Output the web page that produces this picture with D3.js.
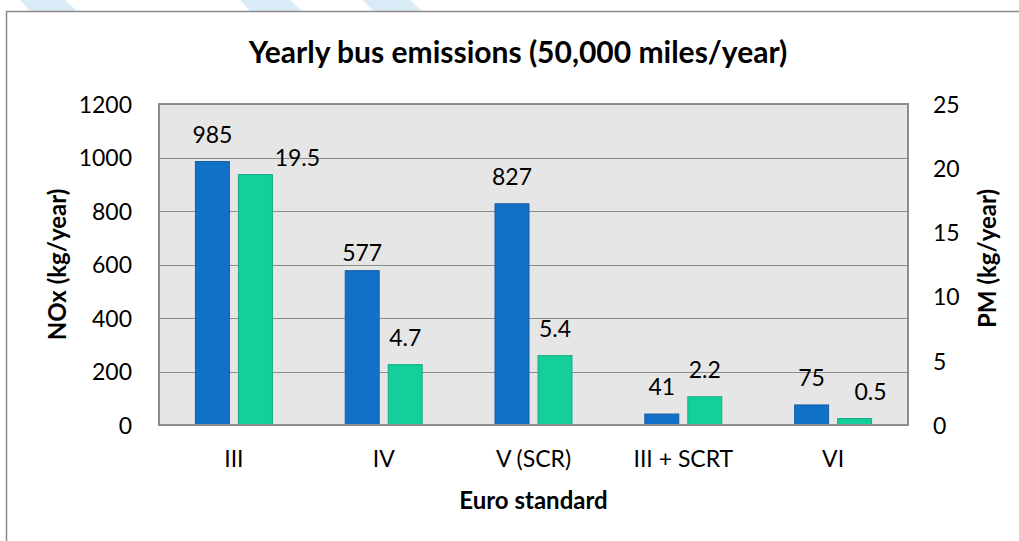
<!DOCTYPE html>
<html>
<head>
<meta charset="utf-8">
<script src="https://cdn.jsdelivr.net/npm/d3@7"></script>
<style>
  html, body { margin: 0; padding: 0; background: #fff; }
  svg { display: block; }
  text { font-family: Lato, "Open Sans", sans-serif; fill: #000; }
</style>
</head>
<body>
<svg id="chart" width="1019" height="541"></svg>
<script>
// Euro emission standards and yearly emissions per bus
const categories = ["III", "IV", "V (SCR)", "III + SCRT", "VI"];
const noxValues = [985, 577, 827, 41, 75];       // kg/year, left axis
const pmValues = [19.5, 4.7, 5.4, 2.2, 0.5];     // kg/year, right axis
const noxTicks = [0, 200, 400, 600, 800, 1000, 1200];
const pmTicks = [0, 5, 10, 15, 20, 25];

const svg = d3.select("#chart");
const W = 1019, H = 541;
const plot = { left: 159, right: 908, top: 104, bottom: 425 };
const baseFont = 23;

// decorative stripes along the top edge
const stripes = [[20, 65], [240, 290], [363, 410]];
svg.selectAll("path.stripe").data(stripes).join("path")
  .attr("class", "stripe")
  .attr("d", d => `M${d[0]},0 L${d[1]},0 L${d[1] + 12},11 L${d[0] + 10},11 Z`)
  .attr("fill", "#d8ebf6");

// outer chart frame
svg.append("path")
  .attr("d", `M6.5,${H} L6.5,11.5 L${W},11.5`)
  .attr("fill", "none").attr("stroke", "#8c8c8c").attr("stroke-width", 1.5);

const x0 = d3.scaleBand().domain(categories).range([plot.left, plot.right]);
const x1 = d3.scaleBand().domain(["nox", "pm"]).range([0, x0.bandwidth()])
  .paddingInner(0.21).paddingOuter(0.847);
const yL = d3.scaleLinear().domain([0, 1200]).range([plot.bottom, plot.top]);
const yR = d3.scaleLinear().domain([0, 25]).range([plot.bottom, plot.top]);

// plot background
svg.append("rect")
  .attr("x", plot.left).attr("y", plot.top)
  .attr("width", plot.right - plot.left).attr("height", plot.bottom - plot.top)
  .attr("fill", "#e6e6e6");

// horizontal gridlines
svg.append("g").selectAll("line").data(noxTicks.slice(1, -1)).join("line")
  .attr("x1", plot.left).attr("x2", plot.right)
  .attr("y1", d => Math.round(yL(d)) + 0.5).attr("y2", d => Math.round(yL(d)) + 0.5)
  .attr("stroke", "#8c8c8c").attr("stroke-width", 1);

// bars
const rows = categories.map((c, i) => ({ c, nox: noxValues[i], pm: pmValues[i] }));
const groups = svg.append("g").selectAll("g").data(rows).join("g")
  .attr("transform", d => `translate(${x0(d.c)},0)`);

groups.append("rect")
  .attr("x", x1("nox")).attr("width", x1.bandwidth())
  .attr("y", d => yL(d.nox)).attr("height", d => plot.bottom - yL(d.nox))
  .attr("fill", "#1170c8").attr("stroke", "#175fa3").attr("stroke-width", 1);

groups.append("rect")
  .attr("x", x1("pm")).attr("width", x1.bandwidth())
  .attr("y", d => yR(d.pm)).attr("height", d => plot.bottom - yR(d.pm))
  .attr("fill", "#13d09b").attr("stroke", "#14a985").attr("stroke-width", 1);

// plot border
svg.append("rect")
  .attr("x", plot.left).attr("y", plot.top)
  .attr("width", plot.right - plot.left).attr("height", plot.bottom - plot.top)
  .attr("fill", "none").attr("stroke", "#8c8c8c").attr("stroke-width", 2);

// value labels; a few are nudged to avoid crowding
const nudge = { "nox-1": [0, 9], "pm-0": [42, 10], "pm-4": [16, 0] };
const labelGap = 19;
function addLabels(key, scale) {
  groups.append("text")
    .attr("text-anchor", "middle")
    .attr("font-size", baseFont)
    .attr("x", (d, i) => x1(key) + x1.bandwidth() / 2 + ((nudge[`${key}-${i}`] || [0, 0])[0]))
    .attr("y", (d, i) => scale(d[key]) - labelGap + ((nudge[`${key}-${i}`] || [0, 0])[1]))
    .text(d => d[key]);
}
addLabels("nox", yL);
addLabels("pm", yR);

function styleTicks(g, dy) {
  g.select(".domain").remove();
  g.selectAll("text").attr("font-size", baseFont).attr("font-family", "Lato, sans-serif")
    .attr("fill", "#000").attr("dy", dy);
}

// left axis
svg.append("g")
  .attr("transform", `translate(${plot.left - 27},0)`)
  .call(d3.axisLeft(yL).tickValues(noxTicks).tickFormat(d3.format("d")).tickSize(0).tickPadding(0))
  .call(g => styleTicks(g, "0.36em"));

// right axis
svg.append("g")
  .attr("transform", `translate(${plot.right + 25},0)`)
  .call(d3.axisRight(yR).tickValues(pmTicks).tickFormat(d3.format("d")).tickSize(0).tickPadding(0))
  .call(g => styleTicks(g, "0.36em"));

// category axis
svg.append("g")
  .attr("transform", `translate(0,${plot.bottom + 26})`)
  .call(d3.axisBottom(x0).tickSize(0).tickPadding(0))
  .call(g => styleTicks(g, "0.71em"));

// titles
svg.append("text")
  .attr("x", 518).attr("y", 63)
  .attr("text-anchor", "middle").attr("font-size", 30).attr("font-weight", "bold")
  .text("Yearly bus emissions (50,000 miles/year)");

svg.append("text")
  .attr("x", (plot.left + plot.right) / 2).attr("y", 509)
  .attr("text-anchor", "middle").attr("font-size", 24).attr("font-weight", "bold")
  .text("Euro standard");

svg.append("text")
  .attr("transform", `translate(66,${(plot.top + plot.bottom) / 2}) rotate(-90)`)
  .attr("text-anchor", "middle").attr("font-size", 24).attr("font-weight", "bold")
  .text("NOx (kg/year)");

svg.append("text")
  .attr("transform", `translate(996,${(plot.top + plot.bottom) / 2 - 6}) rotate(-90)`)
  .attr("text-anchor", "middle").attr("font-size", 24).attr("font-weight", "bold")
  .text("PM (kg/year)");
</script>
</body>
</html>
